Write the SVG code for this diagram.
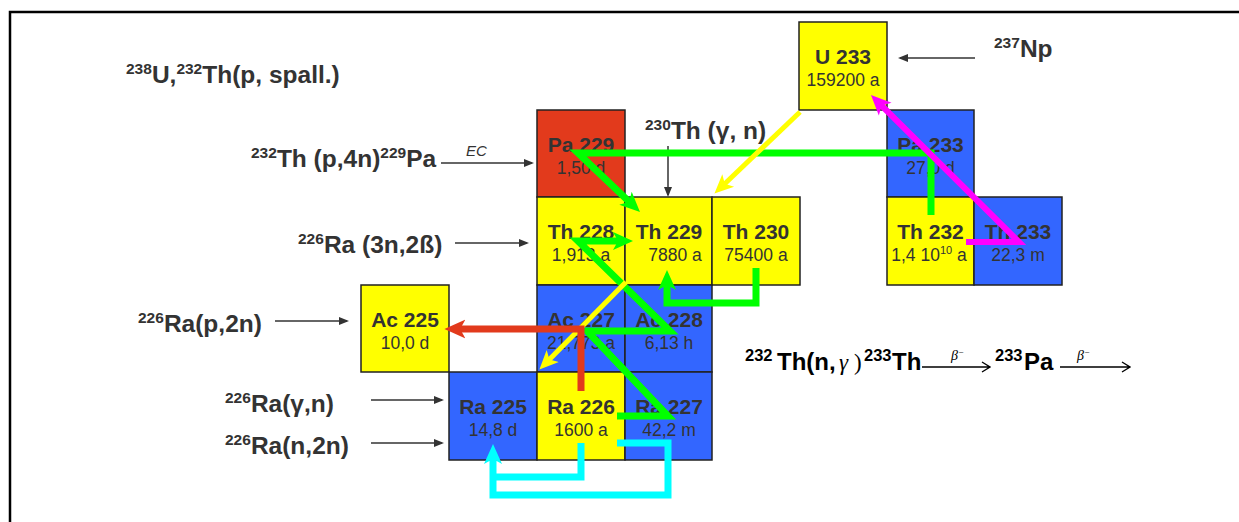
<svg xmlns="http://www.w3.org/2000/svg" width="1239" height="522" viewBox="0 0 1239 522">
<style>
.cell{stroke:#222;stroke-width:1.5}
.y{fill:#FFFF00}.b{fill:#3366FF}.r{fill:#E23A1C}
.nm{font-family:"Liberation Sans",Arial,sans-serif;font-weight:bold;font-size:21px;fill:#333;text-anchor:middle}
.hl{font-family:"Liberation Sans",Arial,sans-serif;font-size:17.5px;fill:#333;text-anchor:middle}
.lbl{font-family:"Liberation Sans",Arial,sans-serif;font-weight:bold;font-size:24.5px;fill:#333}
.sup{font-size:15.5px}
.fx{font-family:"Liberation Sans",Arial,sans-serif;font-weight:bold;font-size:24px;fill:#000}
.fsup{font-size:16.5px}
.ser{font-family:"Liberation Serif","Times New Roman",serif;font-weight:normal;font-size:23px}
.beta{font-family:"Liberation Serif","Times New Roman",serif;font-style:italic;font-size:14px;fill:#000}
.thin{stroke:#333;stroke-width:1.5;fill:none;marker-end:url(#ah)}
.fl{fill:none;stroke-linejoin:miter;stroke-linecap:butt}
</style>
<defs>
<marker id="ah" viewBox="0 0 10 8" refX="8" refY="4" markerWidth="10" markerHeight="8" markerUnits="userSpaceOnUse" orient="auto"><path d="M0,0 L10,4 L0,8 z" fill="#333"/></marker>
<marker id="mg" viewBox="0 0 20 20" refX="8" refY="10" markerWidth="20" markerHeight="20" markerUnits="userSpaceOnUse" orient="auto"><path d="M0,1 L20,10 L0,19 L5,10 z" fill="#00FF00"/></marker>
<marker id="my" viewBox="0 0 20 20" refX="8" refY="10" markerWidth="19" markerHeight="19" markerUnits="userSpaceOnUse" orient="auto"><path d="M0,1 L20,10 L0,19 L5,10 z" fill="#FFFF00"/></marker>
<marker id="mr" viewBox="0 0 20 20" refX="8" refY="10" markerWidth="21" markerHeight="21" markerUnits="userSpaceOnUse" orient="auto"><path d="M0,1 L20,10 L0,19 L5,10 z" fill="#E23A1C"/></marker>
<marker id="mc" viewBox="0 0 20 20" refX="8" refY="10" markerWidth="20" markerHeight="20" markerUnits="userSpaceOnUse" orient="auto"><path d="M0,1 L20,10 L0,19 L5,10 z" fill="#00FFFF"/></marker>
<marker id="mm" viewBox="0 0 20 20" refX="8" refY="10" markerWidth="20" markerHeight="20" markerUnits="userSpaceOnUse" orient="auto"><path d="M0,1 L20,10 L0,19 L5,10 z" fill="#FF00FF"/></marker>
</defs>
<rect width="1239" height="522" fill="#fff"/>
<path d="M10,522 L10,12 L1239,12" fill="none" stroke="#000" stroke-width="2.5"/>

<g id="U233"><rect class="cell y" x="799" y="22" width="88" height="88"/><text class="nm" x="843" y="64">U 233</text><text class="hl" x="843" y="86">159200 a</text></g>
<g id="Pa229"><rect class="cell r" x="537" y="110" width="88" height="87"/><text class="nm" x="581" y="152">Pa 229</text><text class="hl" x="581" y="174">1,50 d</text></g>
<g id="Pa233"><rect class="cell b" x="887" y="110" width="87" height="87"/><text class="nm" x="930.5" y="152">Pa 233</text><text class="hl" x="930.5" y="174">27,0 d</text></g>
<g id="Th228"><rect class="cell y" x="537" y="197" width="88" height="88"/><text class="nm" x="581" y="239">Th 228</text><text class="hl" x="581" y="261">1,913 a</text></g>
<g id="Th229"><rect class="cell y" x="625" y="197" width="87" height="88"/><text class="nm" x="669" y="239">Th 229</text><text class="hl" x="675" y="261">7880 a</text></g>
<g id="Th230"><rect class="cell y" x="712" y="197" width="88" height="88"/><text class="nm" x="756" y="239">Th 230</text><text class="hl" x="756" y="261">75400 a</text></g>
<g id="Th232"><rect class="cell y" x="887" y="197" width="87" height="88"/><text class="nm" x="930.5" y="239">Th 232</text><text class="hl" x="929" y="261">1,4 10<tspan font-size="11" dy="-7">10</tspan><tspan dy="7"> a</tspan></text></g>
<g id="Th233"><rect class="cell b" x="974" y="197" width="88" height="88"/><text class="nm" x="1018" y="239">Th 233</text><text class="hl" x="1018" y="261">22,3 m</text></g>
<g id="Ac225"><rect class="cell y" x="361" y="285" width="88" height="87"/><text class="nm" x="405" y="327">Ac 225</text><text class="hl" x="405" y="349">10,0 d</text></g>
<g id="Ac227"><rect class="cell b" x="537" y="285" width="88" height="87"/><text class="nm" x="581" y="327">Ac 227</text><text class="hl" x="581" y="349">21,773 a</text></g>
<g id="Ac228"><rect class="cell b" x="625" y="285" width="87" height="87"/><text class="nm" x="669" y="327">Ac 228</text><text class="hl" x="669" y="349">6,13 h</text></g>
<g id="Ra225"><rect class="cell b" x="449" y="372" width="88" height="88"/><text class="nm" x="493" y="414">Ra 225</text><text class="hl" x="493" y="436">14,8 d</text></g>
<g id="Ra226"><rect class="cell y" x="537" y="372" width="88" height="88"/><text class="nm" x="581" y="414">Ra 226</text><text class="hl" x="581" y="436">1600 a</text></g>
<g id="Ra227"><rect class="cell b" x="625" y="372" width="87" height="88"/><text class="nm" x="669" y="414">Ra 227</text><text class="hl" x="669" y="436">42,2 m</text></g>

<g id="labels">
<text class="lbl" x="126" y="83"><tspan class="sup" dy="-9">238</tspan><tspan dy="9">U,</tspan><tspan class="sup" dy="-9">232</tspan><tspan dy="9">Th(p, spall.)</tspan></text>
<text class="lbl" x="251" y="167"><tspan class="sup" dy="-9">232</tspan><tspan dy="9">Th (p,4n)</tspan><tspan class="sup" dy="-9">229</tspan><tspan dy="9">Pa</tspan></text>
<text x="466" y="156" font-family="Liberation Sans,Arial,sans-serif" font-style="italic" font-size="15" fill="#333">EC</text>
<text class="lbl" x="645" y="139"><tspan class="sup" dy="-9">230</tspan><tspan dy="9">Th (γ, n)</tspan></text>
<text class="lbl" x="298" y="253"><tspan class="sup" dy="-9">226</tspan><tspan dy="9">Ra (3n,2ß)</tspan></text>
<text class="lbl" x="138" y="332"><tspan class="sup" dy="-9">226</tspan><tspan dy="9">Ra(p,2n)</tspan></text>
<text class="lbl" x="225" y="412"><tspan class="sup" dy="-9">226</tspan><tspan dy="9">Ra(γ,n)</tspan></text>
<text class="lbl" x="225" y="454"><tspan class="sup" dy="-9">226</tspan><tspan dy="9">Ra(n,2n)</tspan></text>
<text class="lbl" x="994" y="57"><tspan class="sup" dy="-9">237</tspan><tspan dy="9">Np</tspan></text>
<text class="fx" y="370"><tspan class="fsup" x="745" dy="-9">232</tspan><tspan x="777" dy="9">Th(n,</tspan><tspan class="ser" x="839" font-style="italic">γ</tspan><tspan class="ser" x="854">)</tspan><tspan class="fsup" x="864" dy="-9">233</tspan><tspan x="892" dy="9">Th</tspan><tspan class="fsup" x="995" dy="-9">233</tspan><tspan x="1024" dy="9">Pa</tspan></text>
<text class="beta" x="951" y="360">β<tspan font-size="9" dy="-5">−</tspan></text>
<text class="beta" x="1077" y="360">β<tspan font-size="9" dy="-5">−</tspan></text>
</g>

<g id="connectors">
<path class="thin" d="M975,58 L900,58"/>
<path class="thin" d="M441,163 L532,163"/>
<path class="thin" d="M668,146 L668,195"/>
<path class="thin" d="M455,243 L527,243"/>
<path class="thin" d="M275,321 L347,321"/>
<path class="thin" d="M371,400 L442,400"/>
<path class="thin" d="M371,443 L442,443"/>
<path d="M922,367 L989,367 M982,362 L990,367 L982,372" fill="none" stroke="#000" stroke-width="1.4"/>
<path d="M1060,367 L1129,367 M1122,362 L1130,367 L1122,372" fill="none" stroke="#000" stroke-width="1.4"/>

<path class="fl" d="M931,215 L931,153 L578,153 L631.3,203.7" stroke="#00FF00" stroke-width="7" marker-end="url(#mg)"/>
<path class="fl" d="M617,416 L668,416 L587,331 L670,331 L578,241 L621,241" stroke="#00FF00" stroke-width="7" marker-end="url(#mg)"/>
<path class="fl" d="M756,268 L756,303 L667,303 L667,282" stroke="#00FF00" stroke-width="7" marker-end="url(#mg)"/>
<path class="fl" d="M800,112 L722.7,185.7" stroke="#FFFF00" stroke-width="5" marker-end="url(#my)"/>
<path class="fl" d="M626,282 L547.4,361.5" stroke="#FFFF00" stroke-width="5" marker-end="url(#my)"/>
<path class="fl" d="M581,391 L581,329 L457,329" stroke="#E23A1C" stroke-width="7" marker-end="url(#mr)"/>
<path class="fl" d="M581,443 L581,477 L493,477" stroke="#00FFFF" stroke-width="7"/>
<path class="fl" d="M617,443 L668,443 L668,495 L493,495 L493,456" stroke="#00FFFF" stroke-width="7" marker-end="url(#mc)"/>
<path class="fl" d="M966,242 L1019,242 L879.5,103.5" stroke="#FF00FF" stroke-width="6" marker-end="url(#mm)"/>
</g>
</svg>
